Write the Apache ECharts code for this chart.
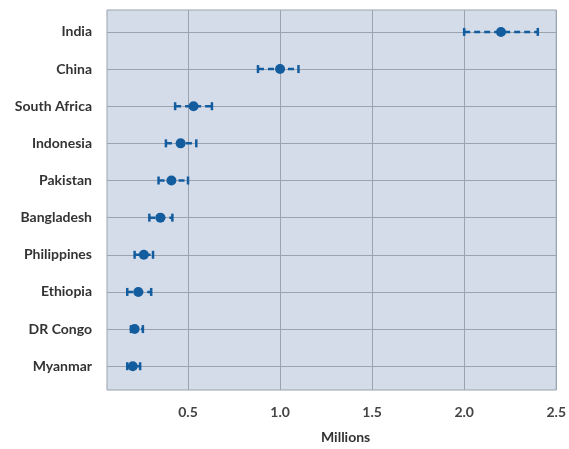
<!DOCTYPE html>
<html><head><meta charset="utf-8">
<script src="https://cdn.jsdelivr.net/npm/echarts@6/dist/echarts.min.js"></script>
<style>html,body{margin:0;padding:0;background:#fff}#c{width:569px;height:449px}</style>
</head><body><div id="c"></div>
<script>
const countries = ['India','China','South Africa','Indonesia','Pakistan','Bangladesh','Philippines','Ethiopia','DR Congo','Myanmar'];
const estimate = [2.2, 1.0, 0.53, 0.46, 0.41, 0.35, 0.26, 0.23, 0.21, 0.20];
const lower = [2.0, 0.88, 0.43, 0.38, 0.34, 0.29, 0.21, 0.17, 0.19, 0.17];
const upper = [2.4, 1.1, 0.63, 0.545, 0.50, 0.415, 0.31, 0.30, 0.255, 0.24];
const xTicks = [0.5, 1.0, 1.5, 2.0, 2.5];

const blue = '#135c9d';
const rowIdx = countries.map((c,i)=>i);
const errData = countries.map((c,i)=>[lower[i], upper[i], i]);
const dotData = countries.map((c,i)=>[estimate[i], i]);
const font = 'Lato';

const chart = echarts.init(document.getElementById('c'), null, {renderer:'canvas'});
chart.setOption({
  animation:false,
  grid:{left:107, right:8, top:10, bottom:54, show:true, backgroundColor:'#d4dcea', borderColor:'#9ba3ae', borderWidth:1},
  xAxis:{
    type:'value', min:0.06, max:2.5,
    name:'Millions', nameLocation:'middle', nameGap:40,
    nameTextStyle:{fontFamily:font, fontWeight:'bold', fontSize:14, color:'#333', padding:[0,0,0,28]},
    axisLine:{show:false},
    axisTick:{show:true, customValues:xTicks, length:5, lineStyle:{color:'#9ba3ae'}},
    axisLabel:{customValues:xTicks, fontFamily:font, fontWeight:'bold', fontSize:14, color:'#444', margin:15, formatter:v=>v.toFixed(1)},
    splitLine:{show:true, lineStyle:{color:'#9ba3ae', width:1}}
  },
  yAxis:{
    type:'value', inverse:true, min:-0.59, max:9.64,
    axisLine:{show:false},
    axisTick:{show:false, customValues:rowIdx},
    axisLabel:{customValues:rowIdx, fontFamily:font, fontWeight:'bold', fontSize:14, color:'#333', margin:15, formatter:v=>countries[Math.round(v)]},
    splitLine:{show:true, lineStyle:{color:'#9ba3ae', width:1}}
  },
  series:[
    {
      type:'custom',
      data:errData,
      encode:{x:[0,1], y:2},
      renderItem:function(params, api){
        const y = api.value(2);
        const p1 = api.coord([api.value(0), y]);
        const p2 = api.coord([api.value(1), y]);
        const h = 4;
        const st = {stroke:blue, lineWidth:2.5};
        return {type:'group', children:[
          {type:'line', shape:{x1:p1[0], y1:p1[1], x2:p2[0], y2:p2[1]}, style:{stroke:blue, lineWidth:2.5, lineDash:[6,4]}},
          {type:'line', shape:{x1:p1[0], y1:p1[1]-h, x2:p1[0], y2:p1[1]+h}, style:st},
          {type:'line', shape:{x1:p2[0], y1:p2[1]-h, x2:p2[0], y2:p2[1]+h}, style:st}
        ]};
      },
      z:3
    },
    {
      type:'scatter', data:dotData, symbol:'circle', symbolSize:10,
      itemStyle:{color:blue, opacity:1}, z:4
    }
  ]
});
</script></body></html>
